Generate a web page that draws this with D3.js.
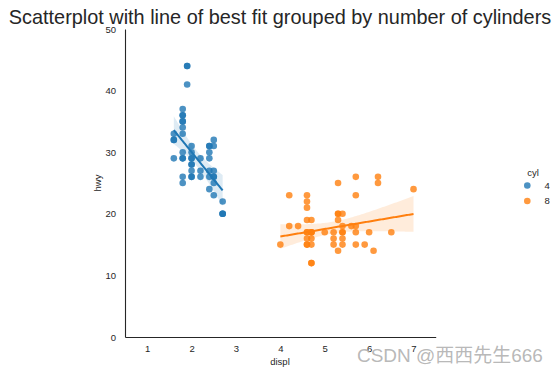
<!DOCTYPE html>
<html>
<head>
<meta charset="utf-8">
<script src="https://cdn.jsdelivr.net/npm/d3@7/dist/d3.min.js"></script>
<style>
  html, body { margin: 0; padding: 0; background: #fff; }
  svg { display: block; font-family: "Liberation Sans", Arial, sans-serif; }
</style>
</head>
<body>
<svg id="chart" width="560" height="373"></svg>
<script>
// ---- data ----
const titleText = "Scatterplot with line of best fit grouped by number of cylinders";
const xLabel = "displ";
const yLabel = "hwy";
const legendTitle = "cyl";
const groups = ["4", "8"];
const groupColors = ["#1f77b4", "#ff7f0e"];
const xTicks = [1, 2, 3, 4, 5, 6, 7];
const yTicks = [0, 10, 20, 30, 40, 50];
const xDomain = [0.5, 7.5];
const yDomain = [0, 50];

const displ4 = [1.6,1.6,1.6,1.6,
  1.8,1.8,1.8,1.8,1.8,1.8,1.8,1.8,1.8,1.8,1.8,1.8,
  1.9,1.9,1.9,
  2.0,2.0,2.0,2.0,2.0,2.0,2.0,2.0,2.0,
  2.2,2.2,2.2,
  2.4,2.4,2.4,2.4,2.4,2.4,2.4,
  2.5,2.5,2.5,2.5,2.5,2.5,2.5,
  2.7,2.7,2.7,2.7];
const hwy4 = [33,32,32,29,
  37,36,36,35,35,34,33,30,29,29,26,25,
  44,44,41,
  31,30,29,29,28,28,27,26,26,
  29,27,26,
  31,31,30,29,27,26,24,
  32,31,27,26,26,25,23,
  22,20,20,20];

const displ8 = [4.0,
  4.2,4.2,
  4.4,
  4.6,4.6,4.6,4.6,4.6,4.6,4.6,4.6,4.6,
  4.7,4.7,4.7,4.7,4.7,4.7,4.7,4.7,
  5.0,
  5.2,5.2,5.2,
  5.3,5.3,5.3,5.3,5.3,
  5.4,5.4,5.4,5.4,5.4,5.4,
  5.6,
  5.7,5.7,5.7,5.7,5.7,
  5.9,
  6.0,
  6.1,
  6.2,6.2,
  6.5,
  7.0];
const hwy8 = [15,
  23,18,
  18,
  23,22,21,19,17,17,16,15,15,
  19,17,17,16,15,12,12,17,
  17,
  17,16,15,
  25,20,19,14,20,
  20,18,17,16,15,17,
  18,
  26,23,18,17,15,
  15,
  17,
  14,
  26,25,
  17,
  24];

const displByGroup = [displ4, displ8];
const hwyByGroup = [hwy4, hwy8];

// ---- helpers: robust (Huber IRLS) linear fit, like seaborn's robust=True ----
function median(a) { const s = a.slice().sort((p, q) => p - q); const m = s.length >> 1; return s.length % 2 ? s[m] : (s[m - 1] + s[m]) / 2; }
function wls(xs, ys, ws) {
  let sw = 0, sx = 0, sy = 0;
  for (let i = 0; i < xs.length; i++) { sw += ws[i]; sx += ws[i] * xs[i]; sy += ws[i] * ys[i]; }
  const mx = sx / sw, my = sy / sw;
  let sxy = 0, sxx = 0;
  for (let i = 0; i < xs.length; i++) { sxy += ws[i] * (xs[i] - mx) * (ys[i] - my); sxx += ws[i] * (xs[i] - mx) ** 2; }
  const b = sxy / sxx; return { a: my - b * mx, b };
}
function robustFit(xs, ys) {
  let w = xs.map(() => 1);
  let fit = wls(xs, ys, w);
  for (let it = 0; it < 60; it++) {
    const r = xs.map((x, i) => ys[i] - (fit.a + fit.b * x));
    const mr = median(r);
    const s = median(r.map(v => Math.abs(v - mr))) / 0.6745 || 1;
    w = r.map(v => { const u = Math.abs(v / s); return u <= 1.345 ? 1 : 1.345 / u; });
    fit = wls(xs, ys, w);
  }
  const n = xs.length;
  const mx = d3.mean(xs);
  const sxx = d3.sum(xs, x => (x - mx) ** 2);
  const res = xs.map((x, i) => ys[i] - (fit.a + fit.b * x));
  const sd = Math.sqrt(d3.sum(res, v => v * v) / (n - 2));
  const x0 = d3.min(xs), x1 = d3.max(xs);
  const grid = d3.range(0, 101).map(k => x0 + (x1 - x0) * k / 100);
  return grid.map(x => {
    const yh = fit.a + fit.b * x;
    const se = sd * Math.sqrt(1 / n + (x - mx) ** 2 / sxx);
    return { x, y: yh, lo: yh - 1.96 * se, hi: yh + 1.96 * se };
  });
}

// ---- chart ----
const svg = d3.select("#chart");
const x = d3.scaleLinear().domain(xDomain).range([125, 435.7]);
const y = d3.scaleLinear().domain(yDomain).range([337, 29]);
const ink = "#262626";

// title
const t = svg.append("text").attr("x", 280).attr("y", 24).attr("text-anchor", "middle")
  .attr("font-size", 20).attr("fill", ink).text(titleText);
const tw = t.node().getComputedTextLength();
t.attr("font-size", 20 * 543 / tw);

// axes
const xAxis = svg.append("g").attr("transform", "translate(0,337)")
  .call(d3.axisBottom(x).tickValues(xTicks).tickSize(0).tickPadding(8).tickFormat(d3.format("d")));
const yAxis = svg.append("g").attr("transform", "translate(125,0)")
  .call(d3.axisLeft(y).tickValues(yTicks).tickSize(0).tickPadding(9).tickFormat(d3.format("d")));
[xAxis, yAxis].forEach(g => {
  g.select(".domain").attr("stroke", ink).attr("stroke-width", 1.1);
  g.selectAll("text").attr("font-size", 9.5).attr("fill", ink).attr("font-family", "Liberation Sans, Arial, sans-serif");
});
svg.append("text").attr("x", 280).attr("y", 365).attr("text-anchor", "middle")
  .attr("font-size", 9.5).attr("fill", ink).text(xLabel);
svg.append("text").attr("transform", "translate(101,183) rotate(-90)").attr("text-anchor", "middle")
  .attr("font-size", 9.5).attr("fill", ink).text(yLabel);

// groups
groups.forEach((gname, gi) => {
  const xs = displByGroup[gi], ys = hwyByGroup[gi], col = groupColors[gi];
  const g = svg.append("g");
  g.selectAll("circle").data(xs.map((d, i) => [d, ys[i]])).join("circle")
    .attr("cx", d => x(d[0])).attr("cy", d => y(d[1])).attr("r", 3.3)
    .attr("fill", col).attr("fill-opacity", 0.8);
  const fit = robustFit(xs, ys);
  g.append("path").datum(fit)
    .attr("d", d3.area().x(d => x(d.x)).y0(d => y(d.lo)).y1(d => y(d.hi)))
    .attr("fill", col).attr("fill-opacity", 0.15);
  g.append("path").datum(fit)
    .attr("d", d3.line().x(d => x(d.x)).y(d => y(d.y)))
    .attr("fill", "none").attr("stroke", col).attr("stroke-width", 2);
});

// legend
const lg = svg.append("g");
lg.append("text").attr("x", 533).attr("y", 176).attr("text-anchor", "middle")
  .attr("font-size", 9.5).attr("fill", ink).text(legendTitle);
groups.forEach((gname, gi) => {
  const yy = 185.5 + gi * 15.5;
  lg.append("circle").attr("cx", 527.3).attr("cy", yy).attr("r", 3.3)
    .attr("fill", groupColors[gi]).attr("fill-opacity", 0.8);
  lg.append("text").attr("x", 544.5).attr("y", yy + 3.4)
    .attr("font-size", 9.5).attr("fill", ink).text(gname);
});

// watermark
const wm = svg.append("text").attr("x", 357).attr("y", 361.5)
  .attr("font-family", "Liberation Sans, 'Noto Sans CJK SC', sans-serif")
  .attr("font-size", 19).attr("fill", "#b0b0b0").attr("fill-opacity", 0.9)
  .text("CSDN @西西先生666");
const ww = wm.node().getComputedTextLength();
wm.attr("font-size", 19 * 186 / ww);
</script>
</body>
</html>
